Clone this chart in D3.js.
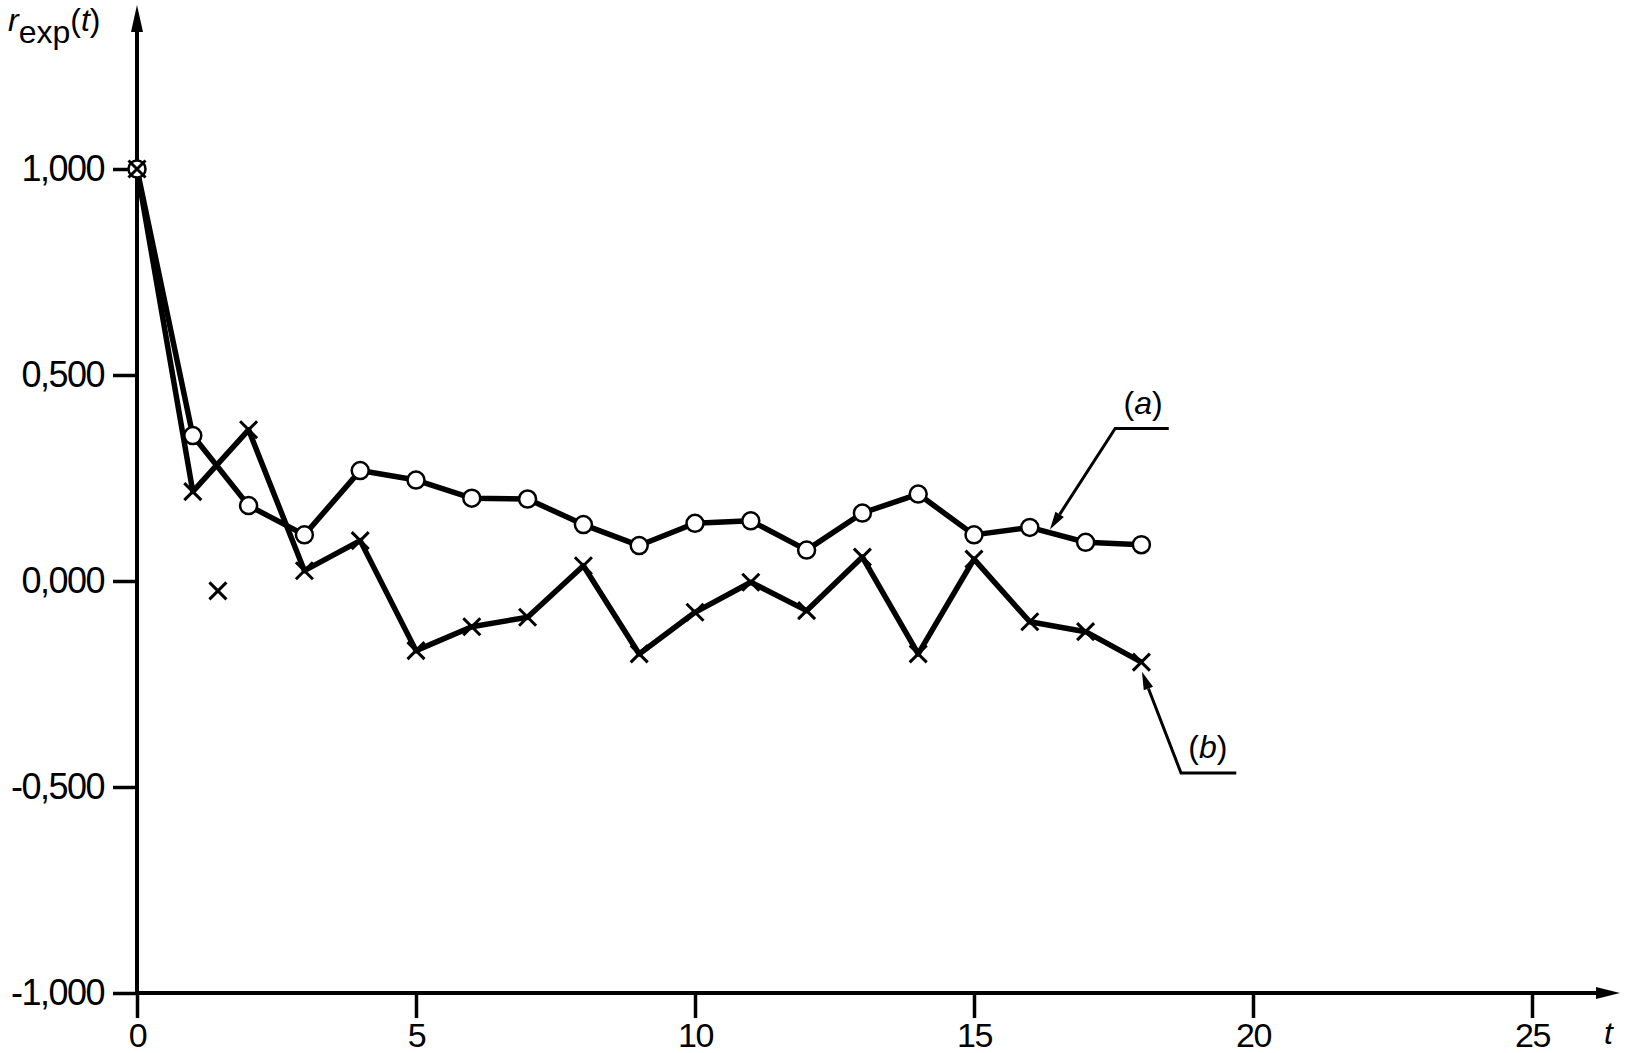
<!DOCTYPE html>
<html>
<head>
<meta charset="utf-8">
<script src="https://cdn.jsdelivr.net/npm/d3@7"></script>
<style>
  body { margin: 0; background: #fff; }
  svg { display: block; font-family: "Liberation Sans", Arial, sans-serif; }
</style>
</head>
<body>
<svg></svg>
<script>
// lag t
const tValues = [0, 1, 2, 3, 4, 5, 6, 7, 8, 9, 10, 11, 12, 13, 14, 15, 16, 17, 18];
// curve (a), circles
const seriesA = [1.0, 0.353, 0.183, 0.112, 0.268, 0.245, 0.201, 0.199, 0.137, 0.086,
  0.14, 0.146, 0.075, 0.165, 0.211, 0.112, 0.13, 0.094, 0.088];
// curve (b), crosses
const seriesB = [1.0, 0.217, 0.367, 0.025, 0.098, -0.169, -0.111, -0.088, 0.037, -0.177,
  -0.076, -0.003, -0.072, 0.058, -0.177, 0.053, -0.099, -0.123, -0.197];
// lone cross next to the axis
const strayT = [1.45];
const strayR = [-0.024];

const xTicks = [0, 5, 10, 15, 20, 25];
const yTicks = [-1, -0.5, 0, 0.5, 1];

const width = 1625;
const height = 1053;

const svg = d3.select("svg").attr("width", width).attr("height", height);

const xScale = d3.scaleLinear().domain([0, 25]).range([137, 1532]);
const yScale = d3.scaleLinear().domain([-1, 1]).range([993, 169]);

// decimal comma, plain hyphen for minus
const locale = d3.formatLocale({
  decimal: ",",
  thousands: ".",
  grouping: [3],
  currency: ["", ""],
  minus: "-",
});
const fmt = locale.format(".3f");

const yAxis = d3.axisLeft(yScale).tickValues(yTicks).tickSize(24).tickPadding(9).tickFormat(fmt);
const xAxis = d3.axisBottom(xScale).tickValues(xTicks).tickSize(25).tickPadding(5).tickFormat(d3.format("d"));

const gy = svg.append("g").attr("transform", `translate(${xScale(0)},0)`).call(yAxis);
const gx = svg.append("g").attr("transform", `translate(0,${yScale(-1)})`).call(xAxis);

[gx, gy].forEach((g) => {
  g.select(".domain").remove();
  g.selectAll(".tick line").attr("stroke", "#000").attr("stroke-width", 3.5);
  g.selectAll(".tick text")
    .attr("fill", "#000")
    .style("font-size", "36px")
    .style("letter-spacing", "-1.5px");
});
gx.selectAll(".tick text").style("font-size", "34px");

// axis lines with arrow heads
const x0 = xScale(0);
const yBottom = yScale(-1);
svg.append("line")
  .attr("x1", x0).attr("y1", yBottom)
  .attr("x2", x0).attr("y2", 28)
  .attr("stroke", "#000").attr("stroke-width", 4);
svg.append("path")
  .attr("d", `M${x0},5 L${x0 - 6},32 L${x0 + 6},32 Z`)
  .attr("fill", "#000");

svg.append("line")
  .attr("x1", x0).attr("y1", yBottom)
  .attr("x2", 1600).attr("y2", yBottom)
  .attr("stroke", "#000").attr("stroke-width", 4);
svg.append("path")
  .attr("d", `M1620,${yBottom} L1596,${yBottom - 6} L1596,${yBottom + 6} Z`)
  .attr("fill", "#000");

// axis titles
const yTitle = svg.append("text")
  .attr("x", 8)
  .attr("y", 31)
  .style("font-size", "32px")
  .attr("fill", "#000");
yTitle.append("tspan").style("font-style", "italic").text("r");
yTitle.append("tspan").attr("dy", 12).text("exp");
yTitle.append("tspan").attr("dy", -12).text("(");
yTitle.append("tspan").style("font-style", "italic").text("t");
yTitle.append("tspan").text(")");

svg.append("text")
  .attr("x", 1604)
  .attr("y", 1044)
  .style("font-size", "32px")
  .style("font-style", "italic")
  .attr("fill", "#000")
  .text("t");

// data
const dataA = tValues.map((t, i) => ({ t: t, r: seriesA[i] }));
const dataB = tValues.map((t, i) => ({ t: t, r: seriesB[i] }));
const stray = strayT.map((t, i) => ({ t: t, r: strayR[i] }));

const line = d3.line()
  .x((d) => xScale(d.t))
  .y((d) => yScale(d.r));

svg.append("path")
  .datum(dataA)
  .attr("d", line)
  .attr("fill", "none")
  .attr("stroke", "#000")
  .attr("stroke-width", 5.5)
  .attr("stroke-linejoin", "round");

svg.append("path")
  .datum(dataB)
  .attr("d", line)
  .attr("fill", "none")
  .attr("stroke", "#000")
  .attr("stroke-width", 5.5)
  .attr("stroke-linejoin", "round");

svg.selectAll(".dot-a")
  .data(dataA)
  .enter()
  .append("circle")
  .attr("class", "dot-a")
  .attr("cx", (d) => xScale(d.t))
  .attr("cy", (d) => yScale(d.r))
  .attr("r", 8.5)
  .attr("fill", "#fff")
  .attr("stroke", "#000")
  .attr("stroke-width", 2.5);

const cross = (d) => {
  const cx = xScale(d.t);
  const cy = yScale(d.r);
  const s = 8.5;
  return `M${cx - s},${cy - s}L${cx + s},${cy + s}M${cx - s},${cy + s}L${cx + s},${cy - s}`;
};

svg.selectAll(".dot-b")
  .data(dataB.concat(stray))
  .enter()
  .append("path")
  .attr("class", "dot-b")
  .attr("d", cross)
  .attr("fill", "none")
  .attr("stroke", "#000")
  .attr("stroke-width", 3);

// callouts (a) and (b), placed in data units
const callouts = [
  { label: "a", lt: 18.03, lr: 0.405, u0: 17.53, u1: 18.49, ur: 0.37, tipT: 16.36, tipR: 0.125 },
  { label: "b", lt: 19.19, lr: -0.43, u0: 18.71, u1: 19.7, ur: -0.466, tipT: 18.01, tipR: -0.22 },
];

callouts.forEach((c) => {
  const ux0 = xScale(c.u0);
  const ux1 = xScale(c.u1);
  const uy = yScale(c.ur);
  const tx = xScale(c.tipT);
  const ty = yScale(c.tipR);
  // line up to the arrow base
  const ang = Math.atan2(ty - uy, tx - ux0);
  const len = 18;
  const bx = tx - len * Math.cos(ang);
  const by = ty - len * Math.sin(ang);
  svg.append("path")
    .attr("d", `M${ux1},${uy}L${ux0},${uy}L${bx},${by}`)
    .attr("fill", "none")
    .attr("stroke", "#000")
    .attr("stroke-width", 3);
  const w = 5;
  const px = -Math.sin(ang) * w;
  const py = Math.cos(ang) * w;
  svg.append("path")
    .attr("d", `M${tx},${ty}L${bx + px},${by + py}L${bx - px},${by - py}Z`)
    .attr("fill", "#000");

  const t = svg.append("text")
    .attr("x", xScale(c.lt))
    .attr("y", yScale(c.lr))
    .attr("text-anchor", "middle")
    .style("font-size", "32px")
    .attr("fill", "#000");
  t.append("tspan").text("(");
  t.append("tspan").style("font-style", "italic").text(c.label);
  t.append("tspan").text(")");
});
</script>
</body>
</html>
